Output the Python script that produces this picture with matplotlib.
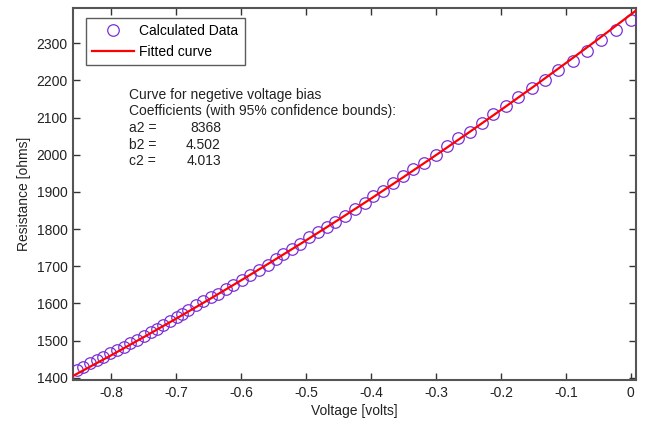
import matplotlib
matplotlib.use("Agg")
import matplotlib.pyplot as plt

plt.rcParams['font.family'] = ['Liberation Sans', 'DejaVu Sans']

# Calculated data
voltage = [-0.8536, -0.8435, -0.8331, -0.8228, -0.8126, -0.8023, -0.7911, -0.7807,
           -0.7715, -0.7612, -0.7499, -0.7396, -0.7294, -0.7202, -0.7099, -0.6995,
           -0.6918, -0.6817, -0.6698, -0.6586, -0.6471, -0.6354, -0.6236, -0.6123,
           -0.5994, -0.5866, -0.5723, -0.5584, -0.5465, -0.5353, -0.5223, -0.5095,
           -0.4952, -0.4814, -0.4684, -0.4556, -0.4402, -0.4248, -0.4094, -0.3966,
           -0.3821, -0.3658, -0.3504, -0.3350, -0.3180, -0.3005, -0.2826, -0.2656,
           -0.2476, -0.2296, -0.2117, -0.1921, -0.1732, -0.1525, -0.1320, -0.1116,
           -0.0894, -0.0678, -0.0458, -0.0227, 0.0005]
resistance = [1420.6, 1429.5, 1438.6, 1447.4, 1456.3, 1465.4, 1474.2, 1483.0,
              1492.2, 1501.0, 1511.7, 1521.6, 1532.3, 1541.2, 1552.7, 1563.4,
              1572.5, 1583.2, 1594.7, 1605.5, 1617.0, 1626.1, 1639.5, 1650.2,
              1661.7, 1675.1, 1688.5, 1701.9, 1719.8, 1733.2, 1746.6, 1760.0,
              1777.7, 1791.1, 1804.5, 1817.9, 1835.8, 1853.8, 1869.0, 1889.4,
              1902.8, 1923.4, 1943.0, 1960.9, 1977.0, 1999.3, 2023.4, 2044.0,
              2060.0, 2085.8, 2108.3, 2130.5, 2154.6, 2179.5, 2200.2, 2228.8,
              2252.9, 2279.7, 2309.2, 2334.1, 2363.0]

# Fitted curve
fit_v = [-0.86, -0.80, -0.75, -0.70, -0.65, -0.60, -0.55, -0.50, -0.45, -0.40,
         -0.35, -0.30, -0.25, -0.20, -0.15, -0.10, -0.05, 0.0, 0.01]
fit_r = [1403.8, 1460.5, 1509.2, 1559.0, 1609.9, 1662.1, 1715.3, 1769.6, 1825.2,
         1881.9, 1939.8, 1998.8, 2059.0, 2120.3, 2182.8, 2246.4, 2311.2, 2377.1,
         2390.6]

x_ticks = [-0.8, -0.7, -0.6, -0.5, -0.4, -0.3, -0.2, -0.1, 0.0]
x_tick_labels = ["-0.8", "-0.7", "-0.6", "-0.5", "-0.4", "-0.3", "-0.2", "-0.1", "0"]
y_ticks = [1400, 1500, 1600, 1700, 1800, 1900, 2000, 2100, 2200, 2300]

coef_names = ["a2 =", "b2 =", "c2 ="]
coef_values = ["8368", "4.502", "4.013"]

FS = 10

fig = plt.figure(figsize=(6.48, 4.24), dpi=100)
ax = fig.add_axes([73/648, 1-380/424, (636-73)/648, (380-8)/424])

ax.plot(voltage, resistance, linestyle='none', marker='o', markersize=8.3,
        markerfacecolor='none', markeredgecolor='#7b2fd6', markeredgewidth=0.9,
        label='Calculated Data', zorder=3)
ax.plot(fit_v, fit_r, color='#ff0000', linewidth=1.6, label='Fitted curve', zorder=4)

ax.set_xlim(-0.859, 0.008)
ax.set_ylim(1393.8, 2394.6)
ax.set_xticks(x_ticks)
ax.set_xticklabels(x_tick_labels)
ax.set_yticks(y_ticks)
ax.tick_params(direction='in', top=True, right=True, length=5, width=1,
               labelsize=FS, colors='#333333', labelcolor='#222222', pad=4)
for s in ax.spines.values():
    s.set_color('#555555')
    s.set_linewidth(1.5)

ax.set_xlabel('Voltage [volts]', fontsize=FS, color='#222222', labelpad=3)
ax.set_ylabel('Resistance [ohms]', fontsize=FS, color='#222222', labelpad=4)

leg = ax.legend(loc='upper left', bbox_to_anchor=(13/563, 1-10/372), fontsize=FS,
                frameon=True, fancybox=False, borderpad=0.45, handlelength=3.0,
                handletextpad=0.4, labelspacing=0.5, borderaxespad=0)
leg.get_frame().set_edgecolor('#333333')
leg.get_frame().set_linewidth(1.0)

def px2data(px, py):
    x0, x1 = ax.get_xlim()
    y0, y1 = ax.get_ylim()
    return (x0 + (px - 73) / 563 * (x1 - x0), y1 - (py - 8) / 372 * (y1 - y0))

tx, ty = px2data(129, 95)
ax.text(tx, ty, 'Curve for negetive voltage bias', fontsize=FS, va='center', ha='left', color='#222222')
tx, ty = px2data(129, 111)
ax.text(tx, ty, 'Coefficients (with 95% confidence bounds):', fontsize=FS, va='center', ha='left', color='#222222')
for i, (n, v) in enumerate(zip(coef_names, coef_values)):
    yy = 128 + i * 16.7
    tx, ty = px2data(129, yy)
    ax.text(tx, ty, n, fontsize=FS, va='center', ha='left', color='#222222')
    tx, ty = px2data(221, yy)
    ax.text(tx, ty, v, fontsize=FS, va='center', ha='right', color='#222222')

fig.savefig('out.png', dpi=100)
